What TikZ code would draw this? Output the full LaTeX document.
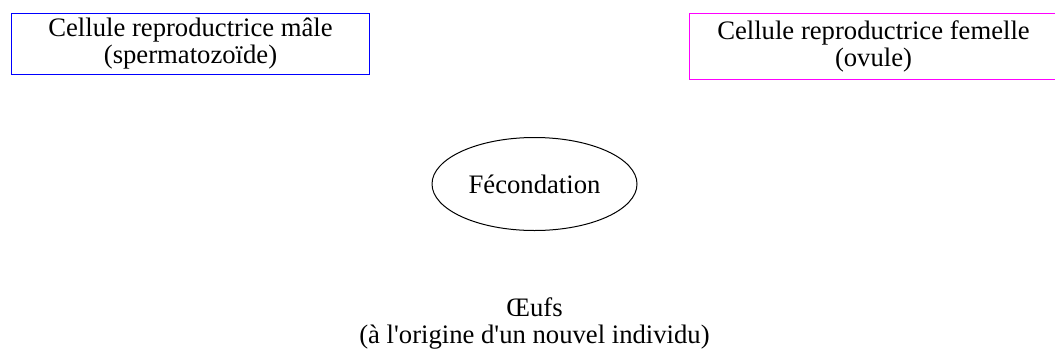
\documentclass[tikz,border=0pt]{standalone}
\usepackage{fontspec}
\setmainfont{Liberation Serif}
\usetikzlibrary{shapes.geometric,positioning}

\definecolor{malecol}{RGB}{0,0,255}
\definecolor{femcol}{RGB}{255,0,255}

\tikzset{
  cellbox/.style = {shape = rectangle, draw, line width = 1.2pt, inner sep = 0pt, align = center, font = \fontsize{20}{20.25}\selectfont},
  fecbox/.style = {shape = ellipse, draw, line width = 0.75pt, inner sep = 0pt, minimum width = 153.75pt, minimum height = 69.75pt, font = \fontsize{20}{20.25}\selectfont},
  plaintext/.style = {inner sep = 0pt, align = center, font = \fontsize{20}{20.25}\selectfont}
}

\begin{document}
\begin{tikzpicture}[x = 0.75pt, y = -0.75pt]
\useasboundingbox (0,0) rectangle (1055,354);
\node[cellbox, draw = malecol, minimum width = 268.5pt, minimum height = 45.75pt] (20) at (190.5,44) {Cellule reproductrice mâle\\(spermatozoïde)};
\node[cellbox, draw = femcol, minimum width = 276pt, minimum height = 49.5pt] (21) at (873.5,46.5) {Cellule reproductrice femelle\\(ovule)};
\node[fecbox] (22) at (534.5,184) {Fécondation};
\node[plaintext] (23) at (534.5,323.5) {Œufs\\(à l\textquotesingle origine d\textquotesingle un nouvel individu)};
\end{tikzpicture}
\end{document}
